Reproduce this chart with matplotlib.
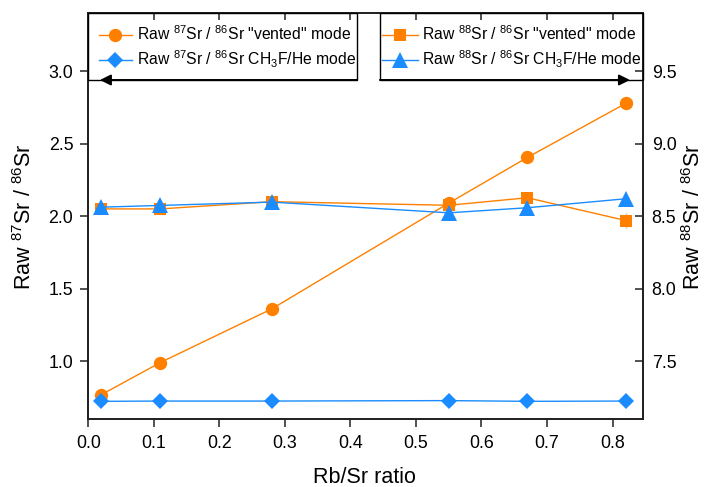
import matplotlib
matplotlib.use("Agg")
import matplotlib.pyplot as plt
from matplotlib.lines import Line2D
from matplotlib.patches import Rectangle

plt.rcParams['font.family'] = ['Liberation Sans', 'DejaVu Sans']
plt.rcParams['mathtext.fontset'] = 'custom'
plt.rcParams['mathtext.rm'] = 'Liberation Sans'
plt.rcParams['mathtext.it'] = 'Liberation Sans:italic'
plt.rcParams['mathtext.bf'] = 'Liberation Sans:bold'

# ---- data ----
rb_sr = [0.02, 0.11, 0.28, 0.55, 0.67, 0.82]
sr87_vented = [0.768, 0.99, 1.36, 2.09, 2.405, 2.778]
sr87_vented_err = [0.02, 0.01, 0.01, 0.01, 0.01, 0.01]
sr87_ch3f = [0.722, 0.724, 0.724, 0.727, 0.722, 0.724]
sr87_ch3f_err = [0.004, 0.004, 0.004, 0.004, 0.004, 0.004]
sr88_vented = [8.55, 8.55, 8.60, 8.575, 8.627, 8.47]
sr88_vented_err = [0.02, 0.02, 0.02, 0.02, 0.02, 0.05]
sr88_ch3f = [8.562, 8.574, 8.597, 8.523, 8.558, 8.62]
sr88_ch3f_err = [0.03, 0.03, 0.03, 0.045, 0.035, 0.03]

x_ticks = [0.0, 0.1, 0.2, 0.3, 0.4, 0.5, 0.6, 0.7, 0.8]
left_ticks = [1.0, 1.5, 2.0, 2.5, 3.0]
right_ticks = [7.5, 8.0, 8.5, 9.0, 9.5]

labels = [r'Raw $^{\mathregular{87}}$Sr / $^{\mathregular{86}}$Sr "vented" mode',
          r'Raw $^{\mathregular{87}}$Sr / $^{\mathregular{86}}$Sr CH$_{\mathregular{3}}$F/He mode',
          r'Raw $^{\mathregular{88}}$Sr / $^{\mathregular{86}}$Sr "vented" mode',
          r'Raw $^{\mathregular{88}}$Sr / $^{\mathregular{86}}$Sr CH$_{\mathregular{3}}$F/He mode']

ORANGE = '#FF8000'
BLUE = '#1A8CFF'
ORANGE_L = '#FFB266'
BLUE_L = '#66B3FF'
SPINE = '#222222'

fig = plt.figure(figsize=(7.09, 4.87), dpi=100)
ax = fig.add_axes([0.1245, 0.1396, 0.782, 0.8331])
ax2 = ax.twinx()

ax.errorbar(rb_sr, sr87_vented, yerr=sr87_vented_err, color=ORANGE, ecolor=ORANGE_L,
            lw=1, marker='o', ms=9.6, mew=0, capsize=0, zorder=3)
ax.errorbar(rb_sr, sr87_ch3f, yerr=sr87_ch3f_err, color=BLUE, ecolor=BLUE_L,
            lw=1, marker='D', ms=8, mew=0, capsize=0, zorder=4)
ax2.errorbar(rb_sr, sr88_vented, yerr=sr88_vented_err, color=ORANGE, ecolor=ORANGE_L,
             lw=1, marker='s', ms=9, mew=0, capsize=3.5, elinewidth=1, zorder=3)
ax2.errorbar(rb_sr, sr88_ch3f, yerr=sr88_ch3f_err, color=BLUE, ecolor=BLUE_L,
             lw=1, marker='^', ms=11, mew=0, capsize=0, elinewidth=1, zorder=4)

ax.set_xlim(0.0, 0.846)
ax.set_ylim(0.6, 3.4)
ax2.set_ylim(7.1, 9.9)
ax.set_xticks(x_ticks)
ax.set_xticklabels([f'{v:.1f}' for v in x_ticks])
ax.set_yticks(left_ticks)
ax.set_yticklabels([f'{v:.1f}' for v in left_ticks])
ax2.set_yticks(right_ticks)
ax2.set_yticklabels([f'{v:.1f}' for v in right_ticks])

ax.tick_params(axis='x', which='major', direction='out', length=6, width=1.1,
               color=SPINE, labelsize=12.8, pad=5.5, top=False)
ax.tick_params(axis='y', which='major', direction='out', length=6, width=1.1,
               color=SPINE, labelsize=12.8, pad=4.8)
ax2.tick_params(axis='y', which='major', direction='in', length=5.5, width=1.1,
                color=SPINE, labelsize=12.8, pad=6.5)
# inward ticks on the top spine
secx = ax.secondary_xaxis('top')
secx.set_xticks(x_ticks)
secx.tick_params(axis='x', direction='in', length=5, width=1.1, color=SPINE, labeltop=False)
secx.spines['top'].set_visible(False)

for a in (ax, ax2):
    for s in a.spines.values():
        s.set_color(SPINE)
        s.set_linewidth(1.3)

ax.set_xlabel('Rb/Sr ratio', fontsize=15.5, va='baseline')
ax.xaxis.set_label_coords(0.499, -0.1585)
ax.set_ylabel(r'Raw $^{\mathregular{87}}$Sr / $^{\mathregular{86}}$Sr', fontsize=15.5, labelpad=9)
ax2.set_ylabel(r'Raw $^{\mathregular{88}}$Sr / $^{\mathregular{86}}$Sr', fontsize=15.5, labelpad=4)

# legend boxes with arrows
box_bottom = 0.8356
ax2.add_patch(Rectangle((0.0, box_bottom), 0.4847, 1 - box_bottom, transform=ax.transAxes,
                        fill=False, ec='black', lw=1.0, clip_on=False, zorder=5))
ax2.add_patch(Rectangle((0.526, box_bottom), 0.474, 1 - box_bottom, transform=ax.transAxes,
                        fill=False, ec='black', lw=1.0, clip_on=False, zorder=5))
ax2.annotate('', xy=(0.021, box_bottom), xytext=(0.4847, box_bottom), xycoords=ax.transAxes,
             textcoords=ax.transAxes,
             arrowprops=dict(arrowstyle='-|>', color='black', lw=1.4, mutation_scale=16,
                             shrinkA=0, shrinkB=0), zorder=6)
ax2.annotate('', xy=(0.977, box_bottom), xytext=(0.526, box_bottom), xycoords=ax.transAxes,
             textcoords=ax.transAxes,
             arrowprops=dict(arrowstyle='-|>', color='black', lw=1.4, mutation_scale=16,
                             shrinkA=0, shrinkB=0), zorder=6)

h1 = [Line2D([], [], color=ORANGE, lw=1, marker='o', ms=9.6, mew=0),
      Line2D([], [], color=BLUE, lw=1, marker='D', ms=8, mew=0)]
h2 = [Line2D([], [], color=ORANGE, lw=1, marker='s', ms=9, mew=0),
      Line2D([], [], color=BLUE, lw=1, marker='^', ms=11, mew=0)]
leg1 = ax2.legend(h1, labels[:2], loc='upper left', bbox_to_anchor=(0.019, 0.972),
                  bbox_transform=ax.transAxes, frameon=False, fontsize=11.3,
                  handlelength=2.1, handletextpad=0.35, labelspacing=0.32,
                  borderpad=0, borderaxespad=0)
ax2.add_artist(leg1)
leg2 = ax2.legend(h2, labels[2:], loc='upper left', bbox_to_anchor=(0.529, 0.972),
                  bbox_transform=ax.transAxes, frameon=False, fontsize=11.3,
                  handlelength=2.3, handletextpad=0.25, labelspacing=0.32,
                  borderpad=0, borderaxespad=0)

fig.savefig('out.png', dpi=100)
